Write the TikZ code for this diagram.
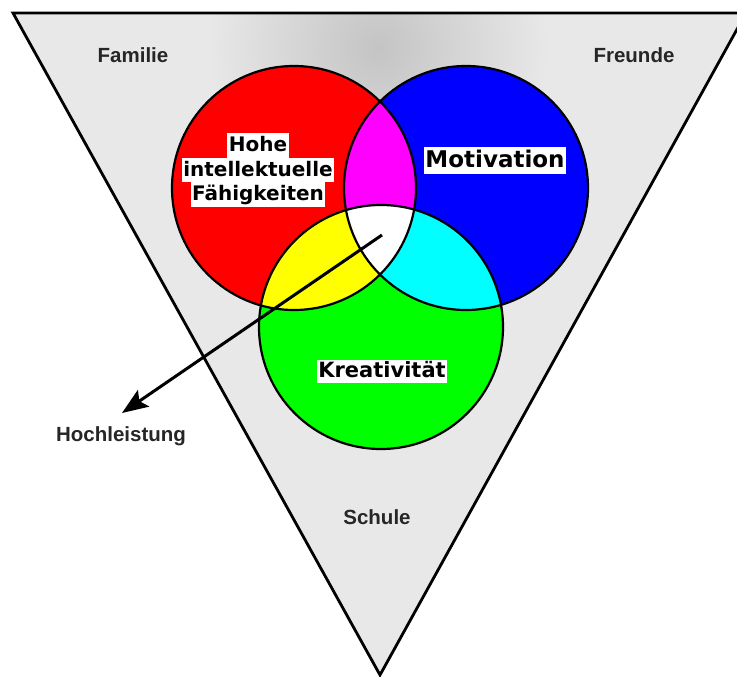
\documentclass[tikz,border=0pt]{standalone}
\usepackage{fontspec}
\setmainfont{DejaVu Sans}
\newfontfamily\lblfont{Liberation Sans}
\usetikzlibrary{arrows.meta}
\definecolor{trigray}{RGB}{232,232,232}
\definecolor{glow}{RGB}{196,196,196}
\definecolor{vred}{RGB}{255,0,0}
\definecolor{vblue}{RGB}{0,0,255}
\definecolor{vgreen}{RGB}{0,255,0}
\definecolor{vyellow}{RGB}{255,255,0}
\definecolor{vmagenta}{RGB}{255,0,255}
\definecolor{vcyan}{RGB}{0,255,255}
\begin{document}
\begin{tikzpicture}[x=1pt,y=-1pt,
  outerlbl/.style={font=\lblfont\bfseries\fontsize{20.5}{24}\selectfont, text=black!85, inner sep=0pt},
  inbox/.style={fill=white, inner sep=1.5pt, text=black, font=\bfseries\fontsize{20}{24}\selectfont, text height=17pt, text depth=4.5pt},
  ring/.style={draw=black, line width=2.2pt},
  tri/.style={draw=black, line width=2.8pt, line join=miter}]
\useasboundingbox (0,0) rectangle (737,677);
\coordinate (tl) at (13,13);
\coordinate (tr) at (746,13);
\coordinate (bt) at (380,675);
\coordinate (cr) at (294,188);
\coordinate (cb) at (466,188);
\coordinate (cg) at (381,327);
\def\R{122pt}
% triangle with glow
\fill[trigray] (tl)--(tr)--(bt)--cycle;
\begin{scope}
  \clip (tl)--(tr)--(bt)--cycle;
  \shade[inner color=glow, outer color=trigray] (378,48) circle[radius=170pt];
\end{scope}
\draw[tri] (tl)--(tr)--(bt)--cycle;
% circles
\fill[vred] (cr) circle[radius=\R];
\fill[vblue] (cb) circle[radius=\R];
\fill[vgreen] (cg) circle[radius=\R];
\begin{scope}
  \clip (cr) circle[radius=\R];
  \fill[vmagenta] (cb) circle[radius=\R];
  \fill[vyellow] (cg) circle[radius=\R];
\end{scope}
\begin{scope}
  \clip (cb) circle[radius=\R];
  \fill[vcyan] (cg) circle[radius=\R];
\end{scope}
\begin{scope}
  \clip (cr) circle[radius=\R];
  \clip (cb) circle[radius=\R];
  \fill[white] (cg) circle[radius=\R];
\end{scope}
\draw[ring] (cr) circle[radius=\R];
\draw[ring] (cb) circle[radius=\R];
\draw[ring] (cg) circle[radius=\R];
% labels
\node[outerlbl] (familie) at (133,55) {Familie};
\node[outerlbl] (freunde) at (634,55) {Freunde};
\node[outerlbl] (schule) at (377,517) {Schule};
\node[outerlbl] (hoch) at (121,436) {Hochleistung};
\node[inbox] (h1) at (258,145.5) {Hohe};
\node[inbox] (h2) at (258,170) {intellektuelle};
\node[inbox] (h3) at (258,194.5) {Fähigkeiten};
\node[inbox, font=\bfseries\fontsize{23}{27}\selectfont, text height=19pt, text depth=5pt] (mot) at (495,160) {Motivation};
\node[inbox, font=\bfseries\fontsize{21}{25}\selectfont, text height=16.5pt, text depth=3.5pt] (kre) at (382,371) {Kreativität};
% arrow
\coordinate (mid) at (382,235);
\coordinate (tip) at (122,413);
\draw[line width=3pt, -{Stealth[length=26pt,width=20pt,inset=5pt]}] (mid) -- (tip);
\end{tikzpicture}
\end{document}
